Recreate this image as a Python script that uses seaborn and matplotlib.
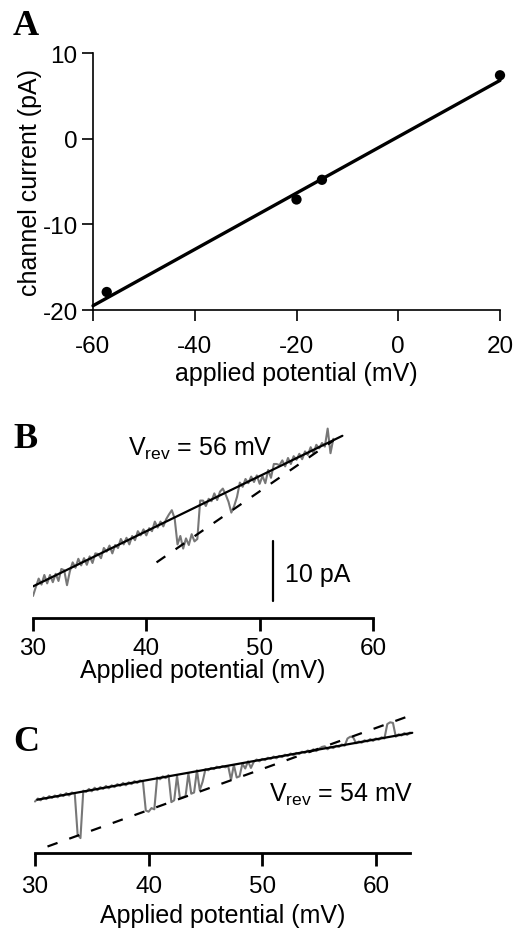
import numpy as np
import pandas as pd
import matplotlib
matplotlib.use("Agg")
import matplotlib.pyplot as plt
import seaborn as sns

# ---------------- data ----------------
# Panel A: I-V points and linear fit
a_voltage = [-57.3, -20.0, -15.0, 20.0]
a_current = [-17.9, -7.1, -4.8, 7.4]
a_fit_x = [-60.0, 20.0]
a_fit_y = [-19.5, 6.8]
a_xticks = [-60, -40, -20, 0, 20]
a_yticks = [-20, -10, 0, 10]

# Panel B: ramp trace (pA) sampled every 0.25 mV from 30 to 56.5 mV
b_v_start, b_v_step = 30.0, 0.25
b_current = [
    -25.5, -24.0, -22.6, -23.6, -22.0, -23.4, -22.0, -23.2, -21.8, -23.0,
    -21.0, -21.2, -23.7, -21.4, -19.9, -20.8, -19.3, -20.4, -19.2, -20.3,
    -18.9, -20.0, -18.4, -18.5, -19.2, -17.5, -18.1, -17.1, -18.4, -17.0,
    -17.5, -16.0, -16.9, -15.8, -16.9, -15.5, -16.2, -14.7, -15.4, -14.4,
    -15.4, -14.2, -14.7, -13.1, -14.1, -13.1, -13.9, -12.7, -11.9, -11.2,
    -12.6, -16.9, -15.5, -17.6, -15.9, -17.0, -15.2, -16.4, -16.0, -9.6,
    -9.6, -10.5, -9.3, -9.7, -8.4, -9.5, -8.1, -7.6, -8.6, -9.8,
    -11.6, -10.5, -9.0, -6.6, -7.3, -6.0, -6.7, -5.6, -6.5, -5.4,
    -6.8, -5.5, -6.7, -4.5, -5.8, -3.5, -3.5, -3.7, -2.9, -3.9,
    -2.5, -3.5, -2.2, -2.8, -1.8, -2.7, -1.4, -2.0, -0.7, -1.7,
    -0.3, -0.9, 0.0, -0.6, 2.4, -1.7, 0.7,
]
b_fit_x = [30.0, 57.3]
b_fit_y = [-23.9, 1.2]
b_open_x = [40.9, 56.5]
b_open_y = [-19.9, 0.4]
b_scalebar_x = [51.2, 51.2]
b_scalebar_y = [-16.3, -26.3]
b_xticks = [30, 40, 50, 60]

# Panel C: ramp trace (pA) sampled every 0.25 mV from 30 to 63 mV
c_v_start, c_v_step = 30.0, 0.25
c_current = [
    -8.5, -8.0, -8.3, -7.8, -8.1, -7.6, -7.9, -7.5, -7.8, -7.3,
    -7.6, -7.1, -7.5, -7.0, -7.2, -14.0, -14.6, -6.7, -6.9, -6.4,
    -6.8, -6.2, -6.6, -6.1, -6.4, -5.9, -6.3, -5.8, -6.1, -5.6,
    -5.9, -5.4, -5.8, -5.3, -5.6, -5.1, -5.4, -5.0, -5.2, -10.0,
    -10.2, -9.6, -9.8, -4.5, -4.8, -4.3, -4.6, -4.1, -8.6, -8.3,
    -4.2, -7.9, -7.8, -7.6, -3.8, -7.2, -7.0, -3.3, -6.6, -5.2,
    -3.1, -3.3, -2.9, -3.1, -2.7, -2.9, -2.6, -2.8, -2.6, -4.9,
    -2.4, -4.5, -4.3, -2.2, -3.0, -1.8, -2.9, -1.9, -1.5, -1.8,
    -1.4, -1.6, -1.2, -1.4, -1.0, -1.3, -0.9, -1.1, -0.7, -0.9,
    -0.5, -0.8, -0.4, -0.6, -0.2, -0.4, 0.0, -0.2, 0.2, -0.1,
    0.3, 0.6, 0.7, 0.2, 0.6, 0.4, 0.8, 0.6, 1.0, 0.8,
    2.0, 2.3, 2.2, 1.2, 1.5, 1.3, 1.7, 1.5, 1.9, 1.6,
    2.0, 1.8, 2.2, 2.0, 4.4, 4.7, 4.6, 2.3, 2.7, 2.5,
    2.9, 2.6, 3.0,
]
c_fit_x = [30.2, 63.2]
c_fit_y = [-8.2, 2.95]
c_open_x = [31.1, 62.7]
c_open_y = [-16.0, 5.6]
c_xticks = [30, 40, 50, 60]

# ---------------- style ----------------
sns.set_style("ticks")
plt.rcParams["font.family"] = ["Liberation Sans", "DejaVu Sans"]
plt.rcParams["mathtext.fontset"] = "custom"
plt.rcParams["mathtext.rm"] = "Liberation Sans"
plt.rcParams["mathtext.it"] = "Liberation Sans"
for key in ["text.color", "axes.labelcolor", "xtick.color", "ytick.color",
            "axes.edgecolor"]:
    plt.rcParams[key] = "black"

TICK_FS = 17.5
LABEL_FS = 18
GREY = "#777777"

fig = plt.figure(figsize=(5.3, 9.29), dpi=100)
W, H = 530.0, 929.0

def axes_px(left, top, right, bottom):
    return fig.add_axes([left / W, 1 - bottom / H, (right - left) / W, (bottom - top) / H])

def line(ax, x, y, **kw):
    sns.lineplot(x=x, y=y, ax=ax, estimator=None, sort=False, **kw)
    return ax.lines[-1]

# ---------------- Panel A ----------------
axA = axes_px(93, 54, 500, 311)
dfA = pd.DataFrame({"v": a_voltage, "i": a_current})
line(axA, a_fit_x, a_fit_y, color="black", linewidth=2.4)
sns.scatterplot(data=dfA, x="v", y="i", ax=axA, color="black", s=55,
                edgecolor="none", zorder=5, clip_on=False)
axA.set_xlim(-60, 20)
axA.set_ylim(-20, 10)
axA.set_xticks(a_xticks)
axA.set_yticks(a_yticks)
axA.set_xticklabels([str(t) for t in a_xticks])
axA.set_yticklabels([str(t) for t in a_yticks])
for l in axA.lines:
    l.set_clip_on(False)
for sp in ["top", "right"]:
    axA.spines[sp].set_visible(False)
for sp in ["left", "bottom"]:
    axA.spines[sp].set_linewidth(1.2)
axA.tick_params(axis="both", direction="out", length=8, width=1.2,
                labelsize=TICK_FS)
axA.tick_params(axis="x", pad=10)
axA.tick_params(axis="y", pad=3)
axA.set_xlabel("applied potential (mV)", fontsize=LABEL_FS, labelpad=3)
axA.set_ylabel("channel current (pA)", fontsize=LABEL_FS, labelpad=0)

# ---------------- Panel B ----------------
axB = axes_px(33, 420, 373, 619)
b_v = b_v_start + b_v_step * np.arange(len(b_current))
line(axB, b_v, b_current, color=GREY, linewidth=1.5)
line(axB, b_fit_x, b_fit_y, color="black", linewidth=1.6)
line(axB, b_open_x, b_open_y, color="black", linewidth=1.6).set_dashes((4.8, 5.6))
line(axB, b_scalebar_x, b_scalebar_y, color="black", linewidth=1.6)
axB.text(38.4, -2.0, r"V$_{\mathrm{rev}}$ = 56 mV", fontsize=LABEL_FS,
         ha="left", va="baseline")
axB.text(52.2, -23.0, "10 pA", fontsize=LABEL_FS, ha="left", va="baseline")
axB.set_xlim(30, 60)
axB.set_ylim(-29.17, 4.0)
axB.set_xticks(b_xticks)
axB.set_xticklabels([str(t) for t in b_xticks])
axB.set_yticks([])
for sp in ["top", "right", "left"]:
    axB.spines[sp].set_visible(False)
axB.spines["bottom"].set_linewidth(2.0)
axB.tick_params(axis="x", direction="out", length=9, width=2.0,
                labelsize=TICK_FS, pad=5)
axB.set_xlabel("Applied potential (mV)", fontsize=LABEL_FS, labelpad=-1)
axB.set_ylabel("")

# ---------------- Panel C ----------------
axC = axes_px(35, 705, 410, 854)
c_v = c_v_start + c_v_step * np.arange(len(c_current))
line(axC, c_v, c_current, color=GREY, linewidth=1.5)
line(axC, c_fit_x, c_fit_y, color="black", linewidth=1.6)
line(axC, c_open_x, c_open_y, color="black", linewidth=1.6).set_dashes((4.8, 5.6))
for l in axC.lines:
    l.set_clip_on(False)
axC.text(50.6, -8.4, r"V$_{\mathrm{rev}}$ = 54 mV", fontsize=LABEL_FS,
         ha="left", va="baseline")
axC.set_xlim(30, 63)
axC.set_ylim(-17.08, 7.75)
axC.set_xticks(c_xticks)
axC.set_xticklabels([str(t) for t in c_xticks])
axC.set_yticks([])
for sp in ["top", "right", "left"]:
    axC.spines[sp].set_visible(False)
axC.spines["bottom"].set_linewidth(2.0)
axC.tick_params(axis="x", direction="out", length=9, width=2.0,
                labelsize=TICK_FS, pad=7)
axC.set_xlabel("Applied potential (mV)", fontsize=LABEL_FS, labelpad=4)
axC.set_ylabel("")

# ---------------- panel letters ----------------
for letter, ybase in [("A", 35), ("B", 448), ("C", 751)]:
    fig.text(13 / W, 1 - ybase / H, letter, fontsize=26, fontweight="bold",
             family=["Liberation Serif", "DejaVu Serif"], ha="left", va="baseline")

fig.savefig("out.png", dpi=100)
